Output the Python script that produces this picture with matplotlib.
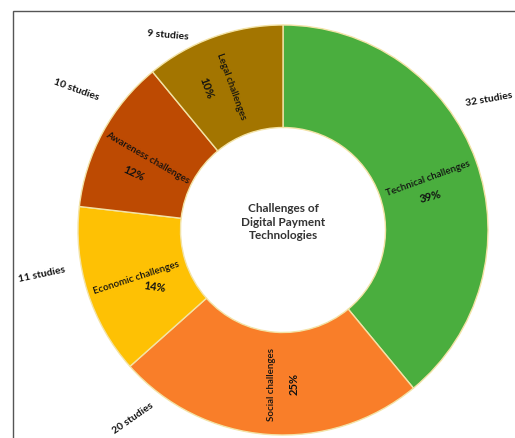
import numpy as np
import matplotlib.pyplot as plt
from matplotlib.patches import Rectangle

# data
categories = ["Technical challenges", "Social challenges", "Economic challenges",
              "Awareness challenges", "Legal challenges"]
studies = [32, 20, 11, 10, 9]
pct_labels = ["39%", "25%", "14%", "12%", "10%"]
count_labels = [f"{n} studies" for n in studies]
centre_title = "Challenges of\nDigital Payment\nTechnologies"

colors = ["#4aae3e", "#f97e29", "#fec104", "#bd4a02", "#a37500"]

# layout (pixel units, y measured from top of image)
W, H = 515, 439
cx, cy, R = 283, 231, 205
name_rot = [20, 90, 18, -30, -70]
pct_rot = [15, 90, -8, -25, -70]
pct_shift = [(3, 18), (23, 0), (18, 10), (-14, 16), (-25, 2)]   # from name position
outer_ang = [32.5, -128.7, -169.7, 145.6, 120.4]
outer_r = [244, 240, 245, 250, 227]
outer_rot = [10, 35, 12, -20, -5]

plt.rcParams['font.family'] = ['Lato', 'DejaVu Sans']

fig = plt.figure(figsize=(W / 100, H / 100), dpi=100)
ax = fig.add_axes([0, 0, 1, 1])

wedges, _ = ax.pie(studies, colors=colors, startangle=90, counterclock=False,
                   center=(cx, H - cy), radius=R,
                   wedgeprops=dict(width=R * 0.5, edgecolor="#f3e3a6", linewidth=1))
ax.set_xlim(0, W)
ax.set_ylim(0, H)
ax.set_aspect('equal')
ax.axis('off')

for i, w in enumerate(wedges):
    mid = np.deg2rad((w.theta1 + w.theta2) / 2)
    r_in = 0.75 * R
    px = cx + r_in * np.cos(mid)
    py = cy - r_in * np.sin(mid)
    ax.text(px, H - py, categories[i], rotation=name_rot[i], rotation_mode='anchor',
            ha='center', va='center', fontsize=7, fontweight='semibold', color='#111111')
    dx, dy = pct_shift[i]
    ax.text(px + dx, H - (py + dy), pct_labels[i], rotation=pct_rot[i], rotation_mode='anchor',
            ha='center', va='center', fontsize=8, fontweight='bold', color='#111111')
    a = np.deg2rad(outer_ang[i])
    ox = cx + outer_r[i] * np.cos(a)
    oy = cy - outer_r[i] * np.sin(a)
    ax.text(ox, H - oy, count_labels[i], rotation=outer_rot[i], rotation_mode='anchor',
            ha='center', va='center', fontsize=7.5, fontweight='bold', color='#111111')

ax.text(cx, H - 222, centre_title, ha='center', va='center', fontsize=8.5,
        fontweight='bold', color='#333333', linespacing=1.25)

# partial frame around the chart
fig.patches.append(Rectangle((13 / W, -0.1), 1.2, (H - 12) / H + 0.1, transform=fig.transFigure,
                             fill=False, edgecolor='#555555', linewidth=1))

fig.savefig("out.png", dpi=100)
